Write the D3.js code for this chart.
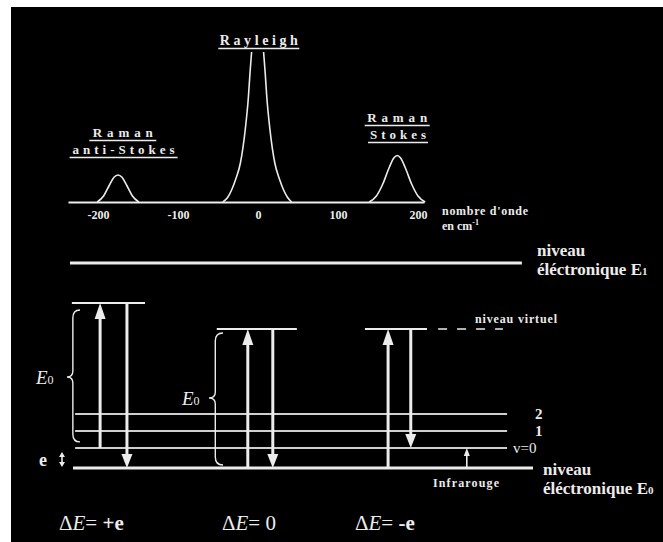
<!DOCTYPE html>
<html><head><meta charset="utf-8">
<script src="https://cdn.jsdelivr.net/npm/d3@7"></script>
<style>body{margin:0;background:#fff} svg{display:block}</style>
</head><body><svg id="c" width="663" height="542"></svg>
<script>
// ---- spectrum data (wavenumber cm-1, relative intensity) ----
const wavenumberTicks = [-200, -100, 0, 100, 200];
const antiStokesPeak = [[-201,0],[-193,4],[-186,11],[-180,16.5],[-175,18],[-170,16.5],[-164,11],[-157,4],[-149,0]];
const rayleighPeak = [[-44,0],[-38,3],[-33,8],[-28,15],[-22,26],[-16,48],[-12,70],[-10,86],[-8,100],[0,null],[7,100],[9,86],[11,70],[15,48],[21,26],[27,15],[32,8],[37,3],[42,0]];
const stokesPeak = [[139,0],[148,4],[156,12],[164,23],[170,29.5],[174,31],[178,29.5],[184,23],[192,12],[200,4],[209,0]];
const peakTitles = [["Raman","anti-Stokes"],["Rayleigh"],["Raman","Stokes"]];

// ---- energy diagram data (relative energy, ground = 0, E1 = 100) ----
const vibLevels = [9.8, 18.0, 26.3];
const vibLabels = ["v=0", "1", "2"];
const electronicLevels = [0, 100];
const electronicLabels = ["E0", "E1"];
const virtualLevels = [80.5, 67.8, 67.8];
const upFrom = [9.8, 0, 0];
const downTo = [0, 0, 9.8];
const processLabels = ["+e", "0", "-e"];

const W = "#ececec";
const FONT = "'Liberation Serif', 'DejaVu Serif', serif";
const svg = d3.select("#c");
svg.append("rect").attr("x", 11).attr("y", 7).attr("width", 652).attr("height", 535).attr("fill", "#000");

// ================= spectrum =================
const x = d3.scaleLinear().domain([-237.5, 207.5]).range([68, 424]);
const y = d3.scaleLinear().domain([0, 100]).range([202, 52]);

const ax = svg.append("g").attr("transform", `translate(0,${y(0)})`)
  .call(d3.axisBottom(x).tickValues(wavenumberTicks).tickSize(0).tickPadding(8).tickFormat(d => String(d)));
ax.select(".domain").attr("stroke", W).attr("stroke-width", 2);
ax.selectAll("text").attr("fill", W).attr("font-family", FONT).attr("font-weight", "bold").attr("font-size", 12);

const line = d3.line().defined(d => d[1] !== null).x(d => x(d[0])).y(d => y(d[1])).curve(d3.curveMonotoneX);
[antiStokesPeak, rayleighPeak, stokesPeak].forEach(p => {
  svg.append("path").attr("d", line(p)).attr("fill", "none").attr("stroke", W).attr("stroke-width", 1.6);
});

function underlined(cx, base, str, size, len, ulen) {
  svg.append("text").attr("x", cx).attr("y", base).attr("text-anchor", "middle")
    .attr("font-family", FONT).attr("font-weight", "bold").attr("font-size", size).attr("fill", W)
    .attr("textLength", len).attr("lengthAdjust", "spacing").text(str);
  svg.append("line").attr("x1", cx - ulen / 2).attr("x2", cx + ulen / 2).attr("y1", base + 3.5).attr("y2", base + 3.5)
    .attr("stroke", W).attr("stroke-width", 1.6);
}
underlined(x(-169), 137, peakTitles[0][0], 13, 60, 67);
underlined(x(-168), 154, peakTitles[0][1], 13, 102, 108);
underlined(x(1), 45, peakTitles[1][0], 14, 78, 81);
underlined(x(174), 122, peakTitles[2][0], 13, 60, 65);
underlined(x(175), 139, peakTitles[2][1], 13, 56, 60);

svg.append("text").attr("x", 442).attr("y", 215).attr("font-family", FONT).attr("font-weight", "bold")
  .attr("font-size", 12).attr("fill", W).attr("textLength", 86).attr("lengthAdjust", "spacing").text("nombre d'onde");
const cm = svg.append("text").attr("x", 442).attr("y", 230).attr("font-family", FONT).attr("font-weight", "bold")
  .attr("font-size", 12).attr("fill", W);
cm.append("tspan").text("en cm");
cm.append("tspan").attr("dy", -5).attr("font-size", 8).text("-1");

// ================= energy diagram =================
const ey = d3.scaleLinear().domain([0, 100]).range([468, 263]);
const dx = d3.scaleLinear().domain([0, 100]).range([70, 533]);

function hline(x0, x1, e, w, col) {
  svg.append("line").attr("x1", dx(x0)).attr("x2", dx(x1)).attr("y1", ey(e)).attr("y2", ey(e))
    .attr("stroke", col || W).attr("stroke-width", w);
}
function arrow(xu, eFrom, eTo, lw, hw, hl) {
  const X = dx(xu), y0 = ey(eFrom), y1 = ey(eTo);
  const dir = y1 < y0 ? 1 : -1;
  svg.append("line").attr("x1", X).attr("x2", X).attr("y1", y0).attr("y2", y1 + dir * hl * 0.6)
    .attr("stroke", W).attr("stroke-width", lw);
  svg.append("polygon").attr("points", `${X},${y1} ${X - hw / 2},${y1 + dir * hl} ${X + hw / 2},${y1 + dir * hl}`)
    .attr("fill", W);
}
function brace(xRight, y1, y2, ymid, depth) {
  const xm = xRight - depth * 0.55, xt = xRight - depth;
  const p = `M${xRight},${y1} Q${xm},${y1} ${xm},${y1 + 8} L${xm},${ymid - 6} Q${xm},${ymid} ${xt},${ymid}
    Q${xm},${ymid} ${xm},${ymid + 6} L${xm},${y2 - 8} Q${xm},${y2} ${xRight},${y2}`;
  svg.append("path").attr("d", p).attr("fill", "none").attr("stroke", W).attr("stroke-width", 1.4);
}

hline(0, 97.6, electronicLevels[1], 3);
hline(0.65, 100, electronicLevels[0], 3);
vibLevels.forEach(e => hline(1.1, 94.4, e, 2, "#cfcfcf"));

[[537, 256, 275], [543, 475, 494]].forEach(([tx, b1, b2], i) => {
  svg.append("text").attr("x", tx).attr("y", b1).attr("font-family", FONT).attr("font-weight", "bold")
    .attr("font-size", 17).attr("fill", W).text("niveau");
  const t = svg.append("text").attr("x", tx).attr("y", b2).attr("font-family", FONT).attr("font-weight", "bold")
    .attr("font-size", 17).attr("fill", W);
  t.append("tspan").text("éléctronique E");
  t.append("tspan").attr("font-size", 11).text(electronicLabels[1 - i].slice(1));
});

const vibLabelX = [513, 535, 535];
vibLevels.forEach((e, i) => {
  svg.append("text").attr("x", vibLabelX[i]).attr("y", ey(e) + 5).attr("font-family", FONT)
    .attr("font-weight", i === 0 ? "normal" : "bold").attr("font-size", 15).attr("fill", W).text(vibLabels[i]);
});

const colLayout = [
  {x0: 0.4, x1: 16.2, up: 6.5, down: 12.3},
  {x0: 31.7, x1: 49.0, up: 38.4, down: 43.8},
  {x0: 63.7, x1: 77.1, up: 68.7, down: 73.6}
];
virtualLevels.forEach((e, i) => {
  const c = colLayout[i];
  hline(c.x0, c.x1, e, 2);
  arrow(c.up, upFrom[i], e, 3, 11, 16);
  arrow(c.down, e, downTo[i], 3, 11, 14);
});
svg.append("line").attr("x1", dx(79.5)).attr("x2", dx(93.5)).attr("y1", ey(virtualLevels[2])).attr("y2", ey(virtualLevels[2]))
  .attr("stroke", W).attr("stroke-width", 1.6).attr("stroke-dasharray", "9,10");
svg.append("text").attr("x", 475).attr("y", ey(virtualLevels[2]) - 6).attr("font-family", FONT).attr("font-weight", "bold")
  .attr("font-size", 12).attr("fill", W).attr("textLength", 82).attr("lengthAdjust", "spacing").text("niveau virtuel");

arrow(85.7, 0, vibLevels[0], 1.6, 6, 8);
svg.append("text").attr("x", 433).attr("y", 487).attr("font-family", FONT).attr("font-weight", "bold")
  .attr("font-size", 12).attr("fill", W).attr("textLength", 66).attr("lengthAdjust", "spacing").text("Infrarouge");

brace(80, ey(virtualLevels[0]) + 7, ey(vibLevels[0]) - 6, 377, 13);
brace(223, ey(virtualLevels[1]) + 4, ey(0) - 3, 398, 14);
[[36, 384], [182, 405]].forEach(([tx, ty]) => {
  const t = svg.append("text").attr("x", tx).attr("y", ty).attr("font-family", FONT)
    .attr("font-style", "italic").attr("font-size", 19).attr("fill", W);
  t.append("tspan").text("E");
  t.append("tspan").attr("font-size", 12).attr("font-style", "normal").text("0");
});

svg.append("text").attr("x", 39).attr("y", 466).attr("font-family", FONT).attr("font-weight", "bold")
  .attr("font-size", 18).attr("fill", W).text("e");
{
  const X = 62, ya = ey(vibLevels[0]) + 4, yb = ey(0) - 1;
  svg.append("line").attr("x1", X).attr("x2", X).attr("y1", ya + 3).attr("y2", yb - 3).attr("stroke", W).attr("stroke-width", 1.6);
  svg.append("polygon").attr("points", `${X},${ya} ${X - 3},${ya + 5} ${X + 3},${ya + 5}`).attr("fill", W);
  svg.append("polygon").attr("points", `${X},${yb} ${X - 3},${yb - 5} ${X + 3},${yb - 5}`).attr("fill", W);
}

const dLabelX = [59, 222, 355];
processLabels.forEach((lab, i) => {
  const t = svg.append("text").attr("x", dLabelX[i]).attr("y", 530).attr("font-family", FONT)
    .attr("font-size", 21).attr("fill", W);
  t.append("tspan").text("Δ");
  t.append("tspan").attr("font-style", "italic").text("E");
  t.append("tspan").text("= ");
  t.append("tspan").attr("font-weight", lab === "0" ? "normal" : "bold").text(lab);
});
</script></body></html>
